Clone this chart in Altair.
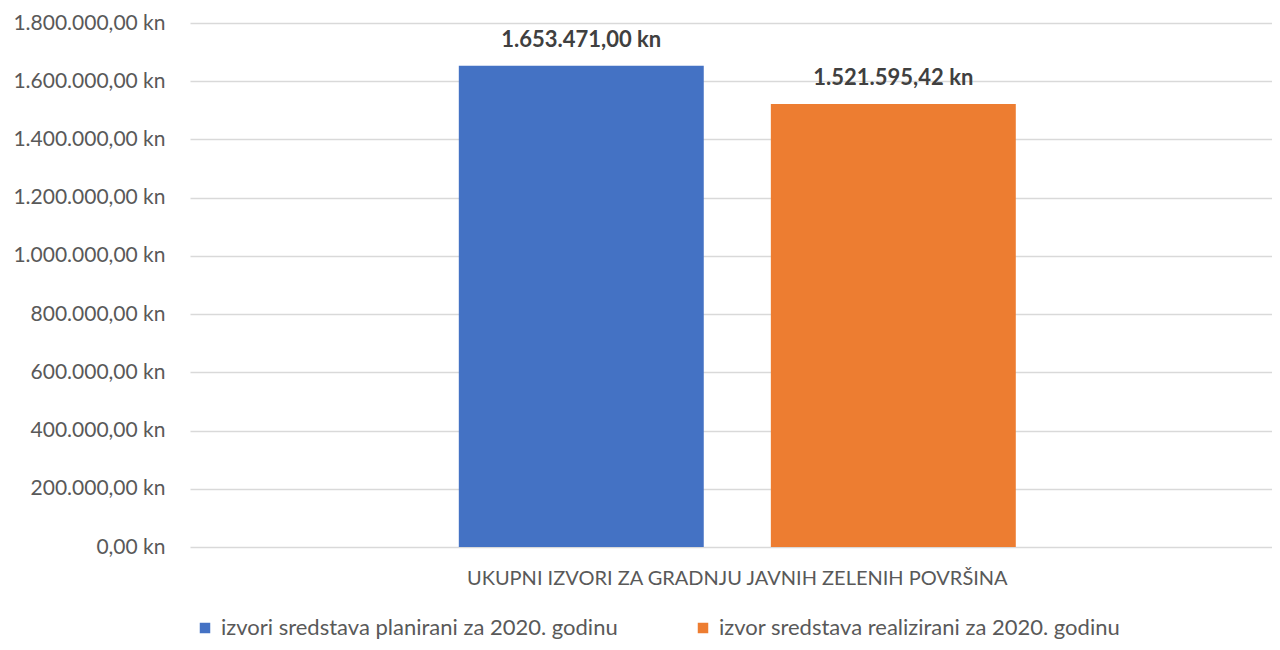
import altair as alt
import pandas as pd

category = ["UKUPNI IZVORI ZA GRADNJU JAVNIH ZELENIH POVRŠINA"]
series = ["izvori sredstava planirani za 2020. godinu",
          "izvor sredstava realizirani za 2020. godinu"]
values = [1653471.00, 1521595.42]
colors = ["#4472C4", "#ED7D31"]
y_ticks = [0, 200000, 400000, 600000, 800000, 1000000, 1200000, 1400000, 1600000, 1800000]

df = pd.DataFrame({"cat": category * len(series), "series": series, "value": values})

FONT = "Lato"
hr_fmt = ("replace(replace(replace(format({v}, ',.2f'), regexp(',', 'g'), '_'), "
          "regexp('\\\\.', 'g'), ','), regexp('_', 'g'), '.') + ' kn'")

x = alt.X("cat:N", title=None,
          scale=alt.Scale(paddingInner=0, paddingOuter=0.4713, align=0.512),
          axis=alt.Axis(domain=False, ticks=False, labelAngle=0, labelFont=FONT,
                        labelFontSize=20, labelColor="#595959", labelPadding=21,
                        labelLimit=800))
xo = alt.XOffset("series:N", sort=series,
                 scale=alt.Scale(paddingInner=0.215, paddingOuter=0))
y = alt.Y("value:Q", title=None,
          scale=alt.Scale(domain=[0, 1800000], nice=False),
          axis=alt.Axis(values=y_ticks, domain=False, ticks=False, labelFont=FONT,
                        labelFontSize=21, labelColor="#595959", labelPadding=25,
                        gridColor="#d9d9d9", gridWidth=1.5,
                        labelExpr=hr_fmt.format(v="datum.value")))

bars = alt.Chart(df).mark_bar().encode(
    x=x, xOffset=xo, y=y,
    color=alt.Color("series:N", sort=series,
                    scale=alt.Scale(domain=series, range=colors),
                    legend=alt.Legend(title=None, orient="none", direction="horizontal",
                                      legendX=4, legendY=594, symbolType="square",
                                      symbolSize=110, symbolStrokeWidth=0,
                                      labelFont=FONT, labelFontSize=22,
                                      labelColor="#595959", labelOffset=5,
                                      columnPadding=74, labelLimit=600)),
)

labels = alt.Chart(df).transform_calculate(
    lbl=hr_fmt.format(v="datum.value")
).mark_text(baseline="bottom", dy=-14, font=FONT, fontSize=22,
            fontWeight="bold", color="#404040").encode(
    x=x, xOffset=xo, y=y, text="lbl:N")

chart = alt.layer(bars, labels).properties(
    width=1082, height=524,
    autosize=alt.AutoSizeParams(type="none"),
    padding={"left": 182, "top": 15, "right": 0, "bottom": 95},
).configure_view(stroke=None)

chart.save("out.html", embed_options={"renderer": "svg", "actions": False})
